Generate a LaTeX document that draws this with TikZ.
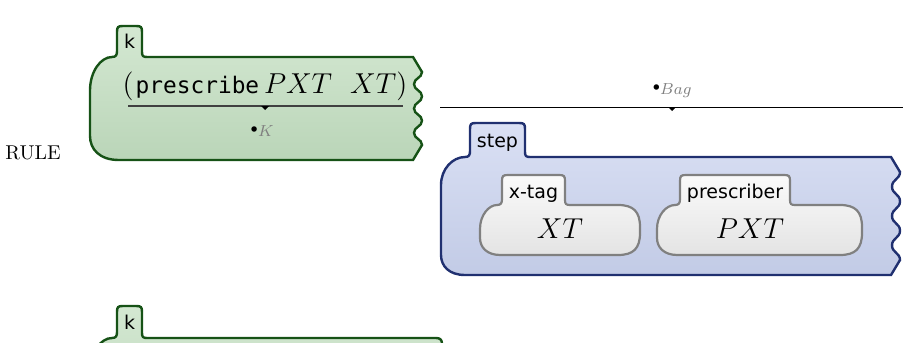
\documentclass[tikz,border=0pt]{standalone}
\usepackage{fontspec}
\setmonofont{DejaVu Sans Mono}
\newfontfamily\tabfont{DejaVu Sans}

\definecolor{kgreen}{RGB}{22,82,22}
\definecolor{kgreentop}{RGB}{212,232,210}
\definecolor{kgreenbot}{RGB}{186,213,184}
\definecolor{kblue}{RGB}{32,48,112}
\definecolor{kbluetop}{RGB}{218,224,244}
\definecolor{kbluebot}{RGB}{194,203,230}
\definecolor{kgray}{RGB}{128,128,128}
\definecolor{kgraytop}{RGB}{250,250,250}
\definecolor{kgraybot}{RGB}{228,228,228}

% left side and tab of a cell: L, tab left, tab right, tab top, body top, bottom, radius
\newcommand{\celltab}[7]{({#1+1.2*#7},#6) .. controls ({#1+0.4*#7},#6) and (#1,{#6-0.45*#7}) .. (#1,{#6-#7})
  -- (#1,{#5+1.4*#7}) .. controls (#1,{#5+0.6*#7}) and ({#1+0.4*(#2-#1)},#5) .. ({#2-5},#5)
  .. controls ({#2-1},#5) and (#2,{#5-2}) .. (#2,{#5-6})
  -- (#2,{#4+6}) .. controls (#2,{#4+1}) and ({#2+1},#4) .. ({#2+6},#4)
  -- ({#3-6},#4) .. controls ({#3-1},#4) and (#3,{#4+1}) .. (#3,{#4+6})
  -- (#3,{#5-5}) .. controls (#3,{#5-1}) and ({#3+1},#5) .. ({#3+5},#5)}
% jagged right side: R, top, bottom
\newcommand{\jagright}[3]{-- (#1,#2) -- ({#1+9},{#2+15})
  \foreach \k in {0,1,2}{
    .. controls ({#1+9},{#2+15+(\k+0.25)*(#3-#2-30)/3}) and ({#1+1},{#2+15+(\k+0.25)*(#3-#2-30)/3}) .. ({#1+1},{#2+15+(\k+0.5)*(#3-#2-30)/3})
    .. controls ({#1+1},{#2+15+(\k+0.75)*(#3-#2-30)/3}) and ({#1+9},{#2+15+(\k+0.75)*(#3-#2-30)/3}) .. ({#1+9},{#2+15+(\k+1)*(#3-#2-30)/3})
  } -- (#1,#3)}
% rounded right side: R, top, bottom, radius
\newcommand{\roundright}[4]{-- ({#1-#4},#2) .. controls ({#1-0.3*#4},#2) and (#1,{#2+0.3*#4}) .. (#1,{#2+#4})
  -- (#1,{#3-#4}) .. controls (#1,{#3-0.3*#4}) and ({#1-0.3*#4},#3) .. ({#1-#4},#3)}

\tikzset{
  greencell/.style={draw=kgreen, line width=1.2pt, top color=kgreentop, bottom color=kgreenbot},
  bluecell/.style={draw=kblue, line width=1.2pt, top color=kbluetop, bottom color=kbluebot},
  itemcell/.style={draw=kgray, line width=1.1pt, top color=kgraytop, bottom color=kgraybot},
  tablabel/.style={font=\tabfont\fontsize{9.5}{11}\selectfont, inner sep=0pt, anchor=base},
  sortlabel/.style={font=\footnotesize, inner sep=0pt},
  rewrite/.style={line width=0.5pt},
}

\begin{document}
\begin{tikzpicture}[x=0.5pt,y=-0.5pt]
  \useasboundingbox (0,0) rectangle (903,342);
  \clip (0,0) rectangle (903,342);

  \node (rule) at (33,153) {RULE};

  % celda k de arriba
  \path[greencell] \celltab{90}{117}{142}{26}{57}{160}{24} \jagright{413}{57}{160} -- cycle;
  \node[tablabel] (ktab) at (129.5,49) {k};
  \node[font=\fontsize{13.8}{16}\selectfont] (lhs) at (265,86) {$($\kern1pt{\fontsize{11.4}{13}\selectfont\texttt{prescribe}}$\,PXT\ \ XT)$};
  \coordinate (kl) at (128,106);
  \coordinate (kr) at (403,106);
  \draw[rewrite, draw=black!75, line width=0.75pt] (kl) -- (kr);
  \fill (261,106) -- (269,106) -- (265,110) -- cycle;
  \node[sortlabel] (kres) at (262,131) {\raisebox{2pt}{$\scriptstyle\bullet$}\textcolor{gray}{$K$}};

  % regla de bag
  \node[sortlabel] (bag) at (672,91) {\raisebox{2pt}{$\scriptstyle\bullet$}\textcolor{gray}{$Bag$}};
  \coordinate (bl) at (440,107);
  \coordinate (br) at (903,107);
  \draw[rewrite] (bl) -- (br);
  \fill (668,107) -- (676,107) -- (672,111) -- cycle;

  % celda step
  \path[bluecell] \celltab{441}{470}{525}{123}{157}{275}{20} \jagright{891}{157}{275} -- cycle;
  \node[tablabel] (steptab) at (497.5,148) {step};

  \path[itemcell] \celltab{480}{502}{565}{175}{205}{255}{17} \roundright{640}{205}{255}{22} -- cycle;
  \node[tablabel] (xtagtab) at (533.5,198) {x-tag};
  \node[font=\Large] (xt) at (560,229) {$XT$};

  \path[itemcell] \celltab{657}{680}{790}{175}{205}{255}{17} \roundright{862}{205}{255}{22} -- cycle;
  \node[tablabel] (prescribertab) at (735,198) {prescriber};
  \node[font=\Large] (pxt) at (750,229) {$PXT$};

  % celda k de abajo (cortada)
  \path[greencell] \celltab{90}{117}{142}{306}{338}{440}{24} \roundright{442}{338}{440}{6} -- cycle;
  \node[tablabel] (ktabb) at (129.5,329) {k};
\end{tikzpicture}
\end{document}
